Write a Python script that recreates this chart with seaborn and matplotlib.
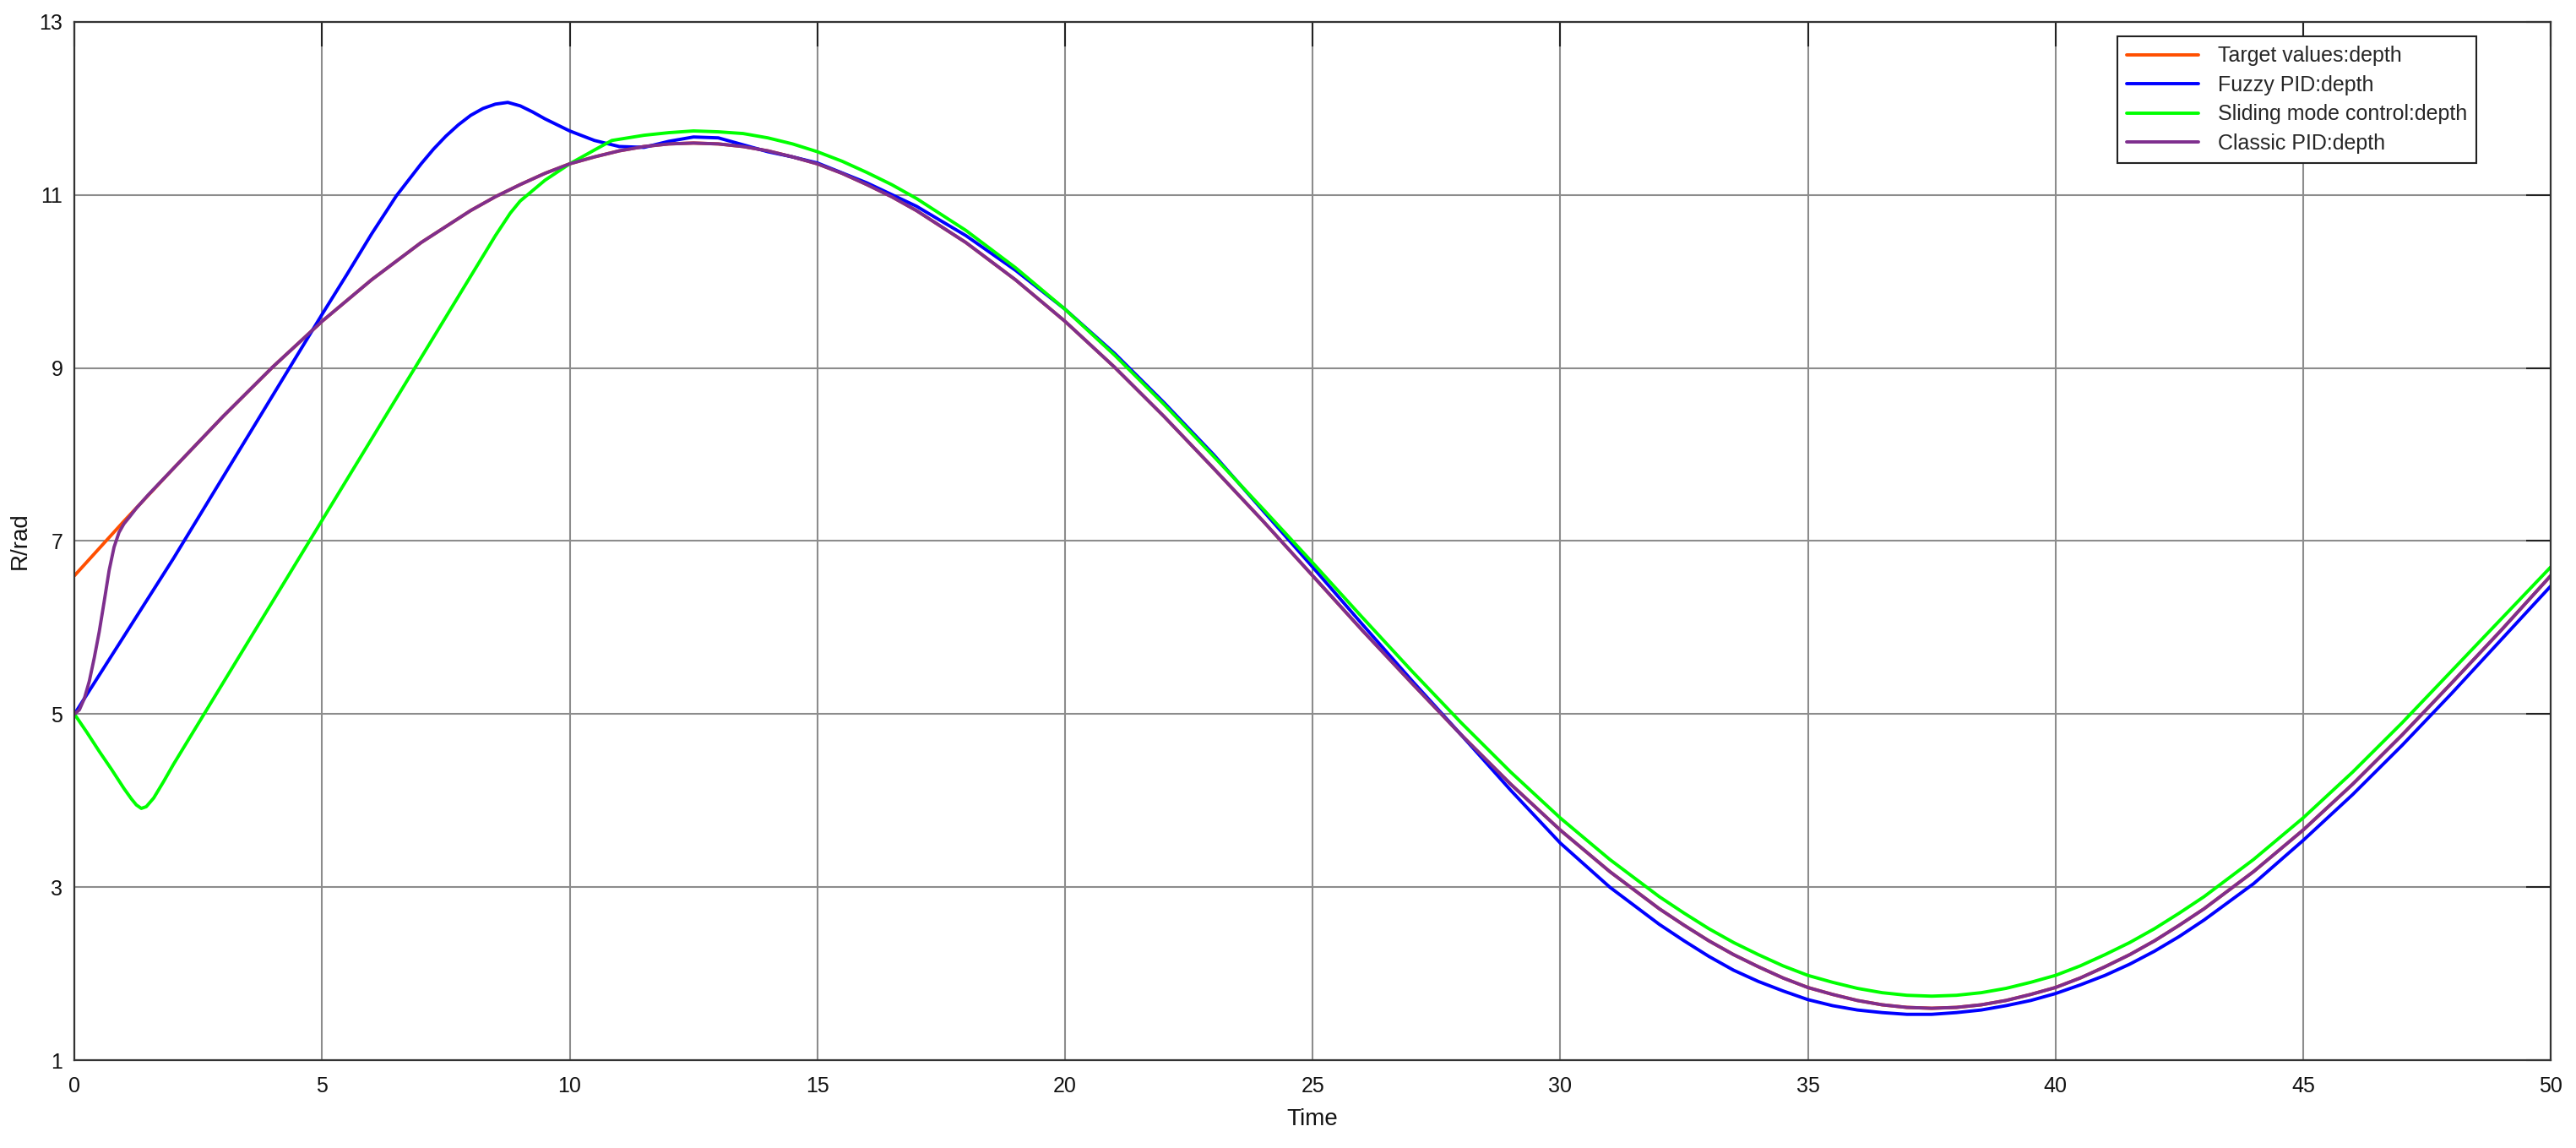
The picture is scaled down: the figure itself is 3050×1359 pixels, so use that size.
import seaborn as sns
from matplotlib import pyplot as plt


def span(start, stop, step):
    # sample times from start to stop inclusive
    n = int(round((stop - start) / step))
    return [round(start + i * step, 2) for i in range(n + 1)]


# target trajectory (orange)
t_target = span(0, 8, 1) + span(8.5, 16.5, 0.5) + span(17, 32, 1) + span(32.5, 42.5, 0.5) + span(43, 50, 1)
target = [6.60, 7.23, 7.84, 8.44, 9.01, 9.54, 10.02, 10.45, 10.82,
          10.98, 11.12, 11.25, 11.36, 11.44, 11.51, 11.56, 11.59, 11.60, 11.59, 11.56, 11.51,
          11.44, 11.36, 11.25, 11.12, 10.98,
          10.82, 10.45, 10.02, 9.54, 9.01, 8.44, 7.84, 7.23, 6.60, 5.97, 5.36, 4.76, 4.19,
          3.66, 3.18, 2.75,
          2.56, 2.38, 2.22, 2.08, 1.95, 1.84, 1.76, 1.69, 1.64, 1.61, 1.60, 1.61, 1.64, 1.69,
          1.76, 1.84, 1.95, 2.08, 2.22, 2.38, 2.56,
          2.75, 3.18, 3.66, 4.19, 4.76, 5.36, 5.97, 6.60]

# fuzzy PID (blue)
t_fuzzy = (span(0, 6.5, 0.5) + span(7, 9.5, 0.25) + span(10, 15, 0.5) + span(16, 32, 1)
           + span(32.5, 42.5, 0.5) + span(43, 50, 1))
fuzzy = [5.00, 5.45, 5.90, 6.35, 6.80, 7.27, 7.74, 8.21, 8.68, 9.15, 9.62, 10.08, 10.55, 10.99,
         11.36, 11.53, 11.68, 11.81, 11.92, 12.00, 12.05, 12.07, 12.03, 11.96, 11.88,
         11.74, 11.63, 11.56, 11.55, 11.62, 11.67, 11.66, 11.58, 11.50, 11.44, 11.37,
         11.14, 10.87, 10.53, 10.13, 9.68, 9.17, 8.60, 8.00, 7.35, 6.70, 6.04, 5.39, 4.76,
         4.12, 3.51, 3.00, 2.57,
         2.38, 2.20, 2.04, 1.91, 1.80, 1.70, 1.63, 1.58, 1.55, 1.53, 1.53, 1.55, 1.58, 1.63,
         1.69, 1.77, 1.87, 1.98, 2.11, 2.26, 2.43,
         2.62, 3.04, 3.54, 4.07, 4.64, 5.24, 5.86, 6.48]

# sliding mode control (green)
t_smc = ([0, 0.25, 0.5, 0.75, 1.0, 1.15, 1.25, 1.35, 1.45, 1.6, 1.8, 2.0] + span(2.5, 8.5, 0.5)
         + [8.8, 9.0, 9.5, 10, 10.5, 10.85] + span(11.5, 16.5, 0.5) + span(17, 32, 1)
         + span(32.5, 42.5, 0.5) + span(43, 50, 1))
smc = [5.00, 4.79, 4.57, 4.36, 4.14, 4.02, 3.95, 3.91, 3.93, 4.03, 4.22, 4.42,
       4.89, 5.36, 5.83, 6.30, 6.77, 7.24, 7.71, 8.18, 8.65, 9.12, 9.59, 10.06, 10.53,
       10.79, 10.93, 11.17, 11.36, 11.52, 11.63,
       11.69, 11.72, 11.74, 11.73, 11.71, 11.66, 11.59, 11.50, 11.39, 11.26, 11.12,
       10.96, 10.59, 10.16, 9.68, 9.15, 8.58, 7.98, 7.37, 6.75, 6.12, 5.50, 4.90, 4.33,
       3.80, 3.32, 2.89,
       2.70, 2.52, 2.36, 2.22, 2.09, 1.98, 1.90, 1.83, 1.78, 1.75, 1.74, 1.75, 1.78, 1.83,
       1.90, 1.98, 2.09, 2.22, 2.36, 2.52, 2.70,
       2.89, 3.32, 3.80, 4.33, 4.90, 5.50, 6.10, 6.70]

# classic PID (purple): fast rise, then on top of the target
t_classic = [0, 0.1, 0.2, 0.3, 0.4, 0.5, 0.6, 0.7, 0.8, 0.9, 1.0, 1.1, 1.25, 1.5] + t_target[2:]
classic = [5.00, 5.05, 5.18, 5.38, 5.65, 5.95, 6.30, 6.66, 6.93, 7.10, 7.20, 7.27, 7.38, 7.54,
           7.84, 8.44, 9.01, 9.54, 10.02, 10.45, 10.82,
           10.98, 11.12, 11.25, 11.36, 11.44, 11.51, 11.56, 11.59, 11.60, 11.59, 11.56, 11.51,
           11.44, 11.36, 11.25, 11.12, 10.98,
           10.82, 10.45, 10.02, 9.54, 9.01, 8.44, 7.84, 7.23, 6.60, 5.97, 5.36, 4.76, 4.19,
           3.66, 3.18, 2.75,
           2.56, 2.38, 2.22, 2.08, 1.95, 1.84, 1.76, 1.69, 1.64, 1.61, 1.60, 1.61, 1.64, 1.69,
           1.76, 1.84, 1.95, 2.08, 2.22, 2.38, 2.56,
           2.75, 3.18, 3.66, 4.19, 4.76, 5.36, 5.97, 6.60]

x_ticks = [0, 5, 10, 15, 20, 25, 30, 35, 40, 45, 50]
y_ticks = [1, 3, 5, 7, 9, 11, 13]

series = [
    (t_target, target, '#FF4F00', 'Target values:depth'),
    (t_fuzzy, fuzzy, '#0000FF', 'Fuzzy PID:depth'),
    (t_smc, smc, '#00FF00', 'Sliding mode control:depth'),
    (t_classic, classic, '#7E2F8E', 'Classic PID:depth'),
]

sns.set_theme(style='white')
plt.rcParams['font.family'] = ['Liberation Sans', 'DejaVu Sans']

fig, ax = plt.subplots(figsize=(30.5, 13.59), dpi=100)
fig.subplots_adjust(left=0.0289, right=0.9902, bottom=0.0765, top=0.9809)

for tx, vals, col, name in series:
    assert len(tx) == len(vals), name
    sns.lineplot(x=tx, y=vals, ax=ax, color=col, lw=2.8, label=name,
                 estimator=None, sort=False)

ax.set_xlim(0, 50)
ax.set_ylim(1, 13)
ax.set_xticks(x_ticks)
ax.set_yticks(y_ticks)
ax.grid(True, color='#8c8c8c', lw=1.5)
ax.set_axisbelow(True)
for sp in ax.spines.values():
    sp.set_color('#333333')
    sp.set_linewidth(1.6)
ax.tick_params(direction='in', length=21, width=1.5, color='#222222', top=True, right=True,
               labelsize=18, labelcolor='#111111')
ax.tick_params(axis='y', pad=10)
ax.tick_params(axis='x', pad=14)
ax.set_xlabel('Time', fontsize=20, color='#111111', labelpad=10)
ax.set_ylabel('R/rad', fontsize=20, color='#111111', labelpad=7)

leg = ax.legend(loc='upper right', bbox_to_anchor=(0.970, 0.986), borderaxespad=0,
                fancybox=False, framealpha=1, edgecolor='#222222', fontsize=18,
                handlelength=3.4, handletextpad=0.9, labelspacing=0.42, borderpad=0.45)
leg.get_frame().set_linewidth(1.5)

plt.savefig('out.png', dpi=100)
